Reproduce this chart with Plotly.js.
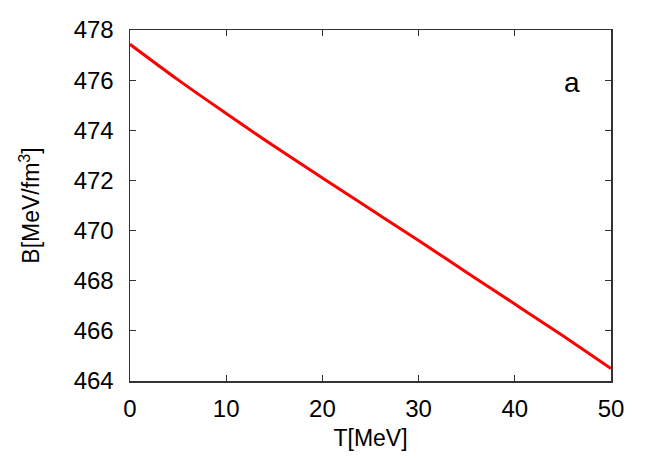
<!DOCTYPE html>
<html>
<head>
<meta charset="utf-8">
<script src="https://cdn.plot.ly/plotly-3.0.1.min.js"></script>
<style>html,body{margin:0;padding:0;background:#fff;}#chart{width:654px;height:458px;}</style>
</head>
<body>
<div id="chart"></div>
<script>
const T = [0, 5, 10, 15, 20, 25, 30, 35, 40, 45, 50];
const B = [477.43, 476.01, 474.67, 473.36, 472.1, 470.85, 469.6, 468.33, 467.07, 465.8, 464.5];
const xTicks = [0, 10, 20, 30, 40, 50];
const yTicks = [464, 466, 468, 470, 472, 474, 476, 478];

const font = {family: "Liberation Sans, Arial, Helvetica, sans-serif", color: "#000"};
const axisCommon = {
  showgrid: false, zeroline: false, showline: true, linecolor: "#333", linewidth: 1.5,
  mirror: "ticks", ticks: "inside", ticklen: 6, tickwidth: 1.2, tickcolor: "#333",
  tickfont: Object.assign({size: 24}, font)
};
Plotly.newPlot("chart", [{
  x: T, y: B, type: "scatter", mode: "lines",
  line: {color: "#ff0000", width: 3, shape: "spline", smoothing: 1}, hoverinfo: "skip"
}], {
  width: 654, height: 458,
  margin: {l: 130, r: 43, t: 30, b: 77},
  paper_bgcolor: "#fff", plot_bgcolor: "#fff",
  showlegend: false,
  xaxis: Object.assign({}, axisCommon, {
    range: [0, 50], tickvals: xTicks, ticktext: xTicks.map(String),
    ticklabelstandoff: 6,
    title: {text: "T[MeV]", font: Object.assign({size: 23}, font), standoff: 8}
  }),
  yaxis: Object.assign({}, axisCommon, {
    range: [464, 478], tickvals: yTicks, ticktext: yTicks.map(String),
    ticklabelstandoff: 10,
    title: {text: "B[MeV/fm<sup>3</sup>]", font: Object.assign({size: 23}, font), standoff: 27}
  }),
  annotations: [{
    x: 45.9, y: 475.9, xref: "x", yref: "y", text: "a", showarrow: false,
    font: Object.assign({size: 28}, font)
  }]
}, {displayModeBar: false, staticPlot: true});
</script>
</body>
</html>
